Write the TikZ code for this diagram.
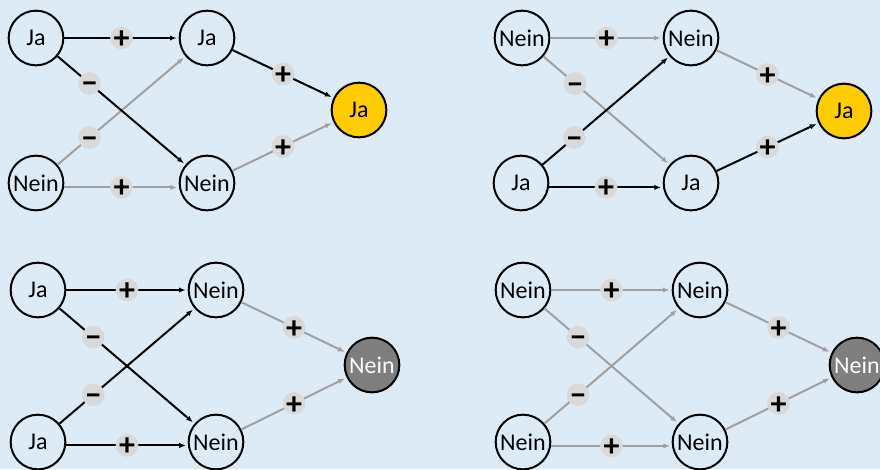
\documentclass[tikz,border=0pt]{standalone}
\usepackage{fontspec}
\setmainfont{Carlito}
\usetikzlibrary{arrows.meta}
\definecolor{bgblue}{HTML}{DDEBF7}
\definecolor{yesgold}{HTML}{FFCC00}
\definecolor{nogray}{HTML}{7F7F7F}
\definecolor{offgray}{HTML}{A0A0A0}
\definecolor{signgray}{HTML}{D9D9D9}
\tikzset{
  state/.style={draw, circle, line width=1.5pt, minimum size=41pt, inner sep=0pt, fill=bgblue, font=\fontsize{18}{18}\selectfont},
  yes/.style={state, fill=yesgold},
  no/.style={state, fill=nogray, text=white},
  onarrow/.style={-{Latex[length=5pt,width=4pt]}, line width=1.5pt, black, shorten >=1.5pt},
  offarrow/.style={-{Latex[length=5pt,width=4pt]}, line width=1.5pt, offgray, shorten >=1.5pt},
  sign/.style={circle, fill=signgray, minimum size=17pt, inner sep=-12pt, text height=15.8pt, text depth=0pt, text=black, font=\fontsize{24}{24}\bfseries\selectfont}
}

\begin{document}
\begin{tikzpicture}[x=0.75pt, y=-0.75pt]
  \fill[bgblue] (0,0) rectangle (880,469);
  \useasboundingbox (0,0) rectangle (880,469);

  % top left
  \node[state] (in1a) at (36,38) {Ja};
  \node[state] (in1b) at (36,183) {Nein};
  \node[state] (hid1a) at (207,38) {Ja};
  \node[state] (hid1b) at (207,183) {Nein};
  \node[yes] (out1) at (359,110) {Ja};

  \draw[offarrow] (in1b) -- node[sign, pos=0.25]{−} (hid1a);
  \draw[offarrow] (in1b.-9) -- node[sign]{+} (hid1b.189);
  \draw[offarrow] (hid1b) -- node[sign]{+} (out1);
  \draw[onarrow] (in1a) -- node[sign]{+} (hid1a);
  \draw[onarrow] (in1a) -- node[sign, pos=0.25]{−} (hid1b);
  \draw[onarrow] (hid1a) -- node[sign]{+} (out1);

  % top right
  \node[state] (in2a) at (522,38) {Nein};
  \node[state] (in2b) at (521,183) {Ja};
  \node[state] (hid2a) at (691,38) {Nein};
  \node[state] (hid2b) at (691,183) {Ja};
  \node[yes] (out2) at (844,111) {Ja};

  \draw[offarrow] (in2a) -- node[sign]{+} (hid2a);
  \draw[offarrow] (in2a) -- node[sign, pos=0.25]{−} (hid2b);
  \draw[offarrow] (hid2a) -- node[sign]{+} (out2);
  \draw[onarrow] (in2b) -- node[sign, pos=0.25]{−} (hid2a);
  \draw[onarrow] (in2b.-9) -- node[sign]{+} (hid2b.189);
  \draw[onarrow] (hid2b) -- node[sign]{+} (out2);

  % bottom left
  \node[state] (in3a) at (38,290) {Ja};
  \node[state] (in3b) at (38,442) {Ja};
  \node[state] (hid3a) at (216,290) {Nein};
  \node[state] (hid3b) at (216,442) {Nein};
  \node[no] (out3) at (372,365) {Nein};

  \draw[offarrow] (hid3a) -- node[sign]{+} (out3);
  \draw[offarrow] (hid3b) -- node[sign]{+} (out3);
  \draw[onarrow] (in3a) -- node[sign]{+} (hid3a);
  \draw[onarrow] (in3a) -- node[sign, pos=0.25]{−} (hid3b);
  \draw[onarrow] (in3b) -- node[sign, pos=0.25]{−} (hid3a);
  \draw[onarrow] (in3b.-7) -- node[sign]{+} (hid3b.187);

  % bottom right
  \node[state] (in4a) at (523,290) {Nein};
  \node[state] (in4b) at (523,442) {Nein};
  \node[state] (hid4a) at (700,290) {Nein};
  \node[state] (hid4b) at (700,442) {Nein};
  \node[no] (out4) at (857,365) {Nein};

  \draw[offarrow] (in4a) -- node[sign]{+} (hid4a);
  \draw[offarrow] (in4a) -- node[sign, pos=0.25]{−} (hid4b);
  \draw[offarrow] (in4b) -- node[sign, pos=0.25]{−} (hid4a);
  \draw[offarrow] (in4b.-8) -- node[sign]{+} (hid4b.188);
  \draw[offarrow] (hid4a) -- node[sign]{+} (out4);
  \draw[offarrow] (hid4b) -- node[sign]{+} (out4);
\end{tikzpicture}
\end{document}
